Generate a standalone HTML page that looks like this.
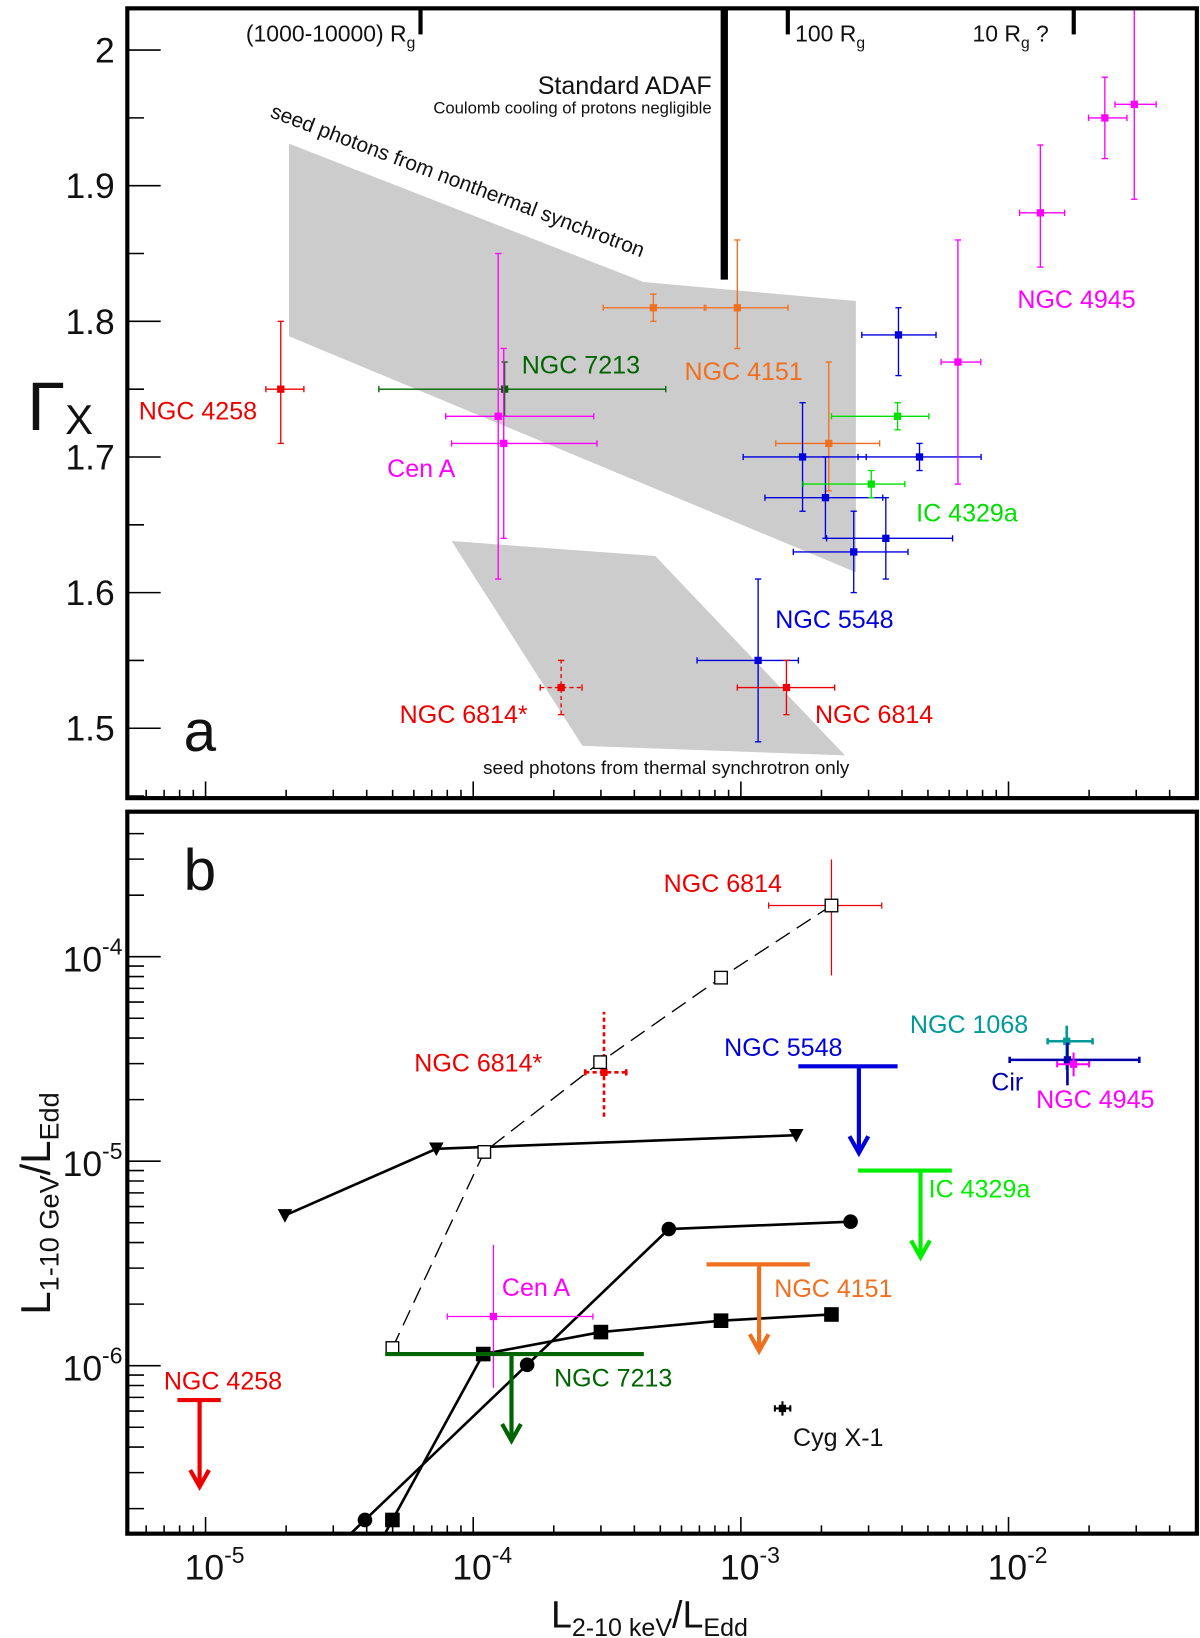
<!DOCTYPE html>
<html><head><meta charset="utf-8"><style>
html,body{margin:0;padding:0;background:#fff;}
svg{display:block;font-family:"Liberation Sans",Arial,sans-serif;}
</style></head><body>
<svg id="chart" xmlns="http://www.w3.org/2000/svg" width="1200" height="1638" viewBox="0 0 1150 1570" preserveAspectRatio="none">
<defs>
<clipPath id="clipA"><rect x="122" y="8" width="1025" height="757"/></clipPath>
<clipPath id="clipB"><rect x="122" y="778" width="1025" height="692"/></clipPath>
</defs>
<g id="panelA"></g>
<g id="panelB"></g>
</svg>
<script>
// ---------- Panel a data ----------
const aNames = ["NGC 4258","NGC 7213","Cen A","Cen A","NGC 4151","NGC 4151","NGC 4151","NGC 5548","NGC 5548","NGC 5548","NGC 5548","NGC 5548","NGC 5548","NGC 5548","IC 4329a","IC 4329a","NGC 4945","NGC 4945","NGC 4945","NGC 4945","NGC 6814","NGC 6814*"];
const aColors = ["#ee0000","#006400","#ff00ff","#ff00ff","#f07020","#f07020","#f07020","#0000dd","#0000dd","#0000dd","#0000dd","#0000dd","#0000dd","#0000dd","#00e000","#00e000","#ff00ff","#ff00ff","#ff00ff","#ff00ff","#ee0000","#ee0000"];
const aX   = [1.91e-5,1.31e-4,1.24e-4,1.30e-4,4.71e-4,9.7e-4,2.13e-3,3.88e-3,1.70e-3,4.65e-3,2.07e-3,3.48e-3,2.64e-3,1.16e-3,3.85e-3,3.07e-3,6.47e-3,1.315e-2,2.29e-2,2.95e-2,1.48e-3,2.13e-4];
const aXlo = [1.68e-5,4.44e-5,7.89e-5,8.3e-5,3.06e-4,7.4e-4,1.35e-3,2.83e-3,1.02e-3,2.74e-3,1.23e-3,2.09e-3,1.57e-3,6.86e-4,2.18e-3,1.71e-3,5.6e-3,1.10e-2,1.99e-2,2.5e-2,9.7e-4,1.78e-4];
const aXhi = [2.33e-5,5.24e-4,2.82e-4,2.9e-4,7.3e-4,1.5e-3,3.3e-3,5.36e-3,2.94e-3,7.9e-3,3.39e-3,6.18e-3,4.21e-3,1.64e-3,5.04e-3,4.1e-3,7.88e-3,1.62e-2,2.77e-2,3.56e-2,2.24e-3,2.55e-4];
const aG   = [1.75,1.75,1.73,1.71,1.81,1.81,1.71,1.79,1.70,1.70,1.67,1.64,1.63,1.55,1.73,1.68,1.77,1.88,1.95,1.96,1.53,1.53];
const aGlo = [1.71,1.73,1.61,1.64,1.80,1.78,1.675,1.76,1.66,1.69,1.64,1.61,1.60,1.49,1.72,1.67,1.68,1.84,1.92,1.89,1.51,1.51];
const aGhi = [1.80,1.77,1.85,1.78,1.82,1.86,1.77,1.81,1.74,1.71,1.70,1.67,1.66,1.61,1.74,1.69,1.86,1.93,1.98,2.03,1.55,1.55];
const aDashed = [0,0,0,0,0,0,0,0,0,0,0,0,0,0,0,0,0,0,0,0,0,1];
const regionUpperX = [2.05e-5,4.33e-4,2.69e-3,2.69e-3,2.05e-5];
const regionUpperG = [1.931,1.829,1.815,1.615,1.789];
const regionLowerX = [8.3e-5,4.79e-4,2.45e-3,2.56e-4];
const regionLowerG = [1.638,1.627,1.48,1.487];
const yTicksA = [1.5,1.6,1.7,1.8,1.9,2.0];
const yTickLabelsA = ["1.5","1.6","1.7","1.8","1.9","2"];
// ---------- Panel b data ----------
const bNames = ["NGC 6814","NGC 6814*","Cen A","NGC 1068","Cir","NGC 4945","Cyg X-1"];
const bColors = ["#ee0000","#ee0000","#ff00ff","#009999","#0000aa","#ff00ff","#000000"];
const bX   = [2.18e-3,3.08e-4,1.19e-4,1.65e-2,1.66e-2,1.75e-2,1.43e-3];
const bXlo = [1.27e-3,2.62e-4,8.0e-5,1.40e-2,1.01e-2,1.52e-2,1.34e-3];
const bXhi = [3.36e-3,3.73e-4,2.8e-4,2.06e-2,3.08e-2,2.0e-2,1.53e-3];
const bY   = [1.78e-4,2.72e-5,1.74e-6,3.86e-5,3.13e-5,2.98e-5,6.18e-7];
const bYlo = [8.1e-5,1.65e-5,7.8e-7,2.8e-5,2.35e-5,2.6e-5,5.7e-7];
const bYhi = [2.99e-4,5.37e-5,3.9e-6,4.6e-5,3.8e-5,3.4e-5,6.7e-7];
const bWidth = [1.2,2.5,1.2,2.5,2.5,2,2];
const bDashed = [0,1,0,0,0,0,0];
const ulNames = ["NGC 5548","IC 4329a","NGC 4151","NGC 7213","NGC 4258"];
const ulColors = ["#0000dd","#00ee00","#f07020","#006400","#ee0000"];
const ulXlo = [1.64e-3,2.74e-3,7.44e-4,4.69e-5,7.85e-6];
const ulXhi = [3.85e-3,6.14e-3,1.81e-3,4.34e-4,1.14e-5];
const ulX   = [2.76e-3,4.69e-3,1.17e-3,1.39e-4,9.5e-6];
const ulY   = [2.91e-5,9.0e-6,3.13e-6,1.14e-6,6.79e-7];
const triX = [1.98e-5,7.28e-5,1.61e-3];
const triY = [5.43e-6,1.15e-5,1.34e-5];
const osqX = [4.99e-5,1.10e-4,2.98e-4,8.43e-4,2.18e-3];
const osqY = [1.22e-6,1.11e-5,3.05e-5,7.9e-5,1.78e-4];
const circX = [3.94e-5,1.59e-4,5.38e-4,2.57e-3];
const circY = [1.76e-7,1.01e-6,4.66e-6,5.06e-6];
const fsqX = [4.99e-5,1.09e-4,3.0e-4,8.43e-4,2.18e-3];
const fsqY = [1.76e-7,1.14e-6,1.46e-6,1.66e-6,1.78e-6];
const xDecades = [-5,-4,-3,-2];
const xTickLabels = ["-5","-4","-3","-2"];
const yDecadesB = [-6,-5,-4];
const yTickLabelsB = ["-6","-5","-4"];

// ---------- axes ----------
const X0=122,X1=1147;
function xs(v){return 197+256.5*(Math.log10(v)+5);}
function ya(g){return 48+(2.0-g)*1300;}
function yb(v){return 917-196*(Math.log10(v)+4);}
const NS="http://www.w3.org/2000/svg";
function mk(tag,attrs,parent){const e=document.createElementNS(NS,tag);for(const k in attrs)e.setAttribute(k,attrs[k]);parent.appendChild(e);return e;}
const A=document.getElementById('panelA'),B=document.getElementById('panelB');

// ===== Panel A =====
const regA=mk('g',{'clip-path':'url(#clipA)'},A);
let p1=mk('polygon',{points:regionUpperX.map((x,i)=>xs(x)+','+ya(regionUpperG[i])).join(' '),fill:'#cccccc'},regA);


let p2=mk('polygon',{points:regionLowerX.map((x,i)=>xs(x)+','+ya(regionLowerG[i])).join(' '),fill:'#cccccc'},regA);


mk('line',{x1:xs(8.67e-4),y1:8,x2:xs(8.67e-4),y2:268,stroke:'#000','stroke-width':7},A);
mk('line',{x1:403,y1:8,x2:403,y2:33,stroke:'#000','stroke-width':4},A);
mk('line',{x1:755,y1:8,x2:755,y2:33,stroke:'#000','stroke-width':4},A);
mk('line',{x1:1029,y1:8,x2:1029,y2:33,stroke:'#000','stroke-width':4},A);
aX.forEach((x,i)=>{
  const g=mk('g',{stroke:aColors[i],'stroke-width':1.3,fill:aColors[i]},regA);
  
  
  const da=aDashed[i]?'4,3':'none';
  const cx=xs(x),cy=ya(aG[i]);
  mk('line',{x1:xs(aXlo[i]),y1:cy,x2:xs(aXhi[i]),y2:cy,'stroke-dasharray':da},g);
  mk('line',{x1:cx,y1:ya(aGlo[i]),x2:cx,y2:ya(aGhi[i]),'stroke-dasharray':da},g);
  [[xs(aXlo[i]),cy,0],[xs(aXhi[i]),cy,0],[cx,ya(aGlo[i]),1],[cx,ya(aGhi[i]),1]].forEach(c=>{
    if(c[2]) mk('line',{x1:c[0]-3,y1:c[1],x2:c[0]+3,y2:c[1]},g); else mk('line',{x1:c[0],y1:c[1]-3,x2:c[0],y2:c[1]+3},g);
  });
  mk('rect',{x:cx-3.5,y:cy-3.5,width:7,height:7,stroke:'none'},g);
});
mk('rect',{x:122,y:8,width:1025,height:757,fill:'none',stroke:'#000','stroke-width':4},A);
for(let d=-6;d<=-1;d++){for(let m=1;m<=9;m++){const v=m*Math.pow(10,d);const x=xs(v);if(x<X0+2||x>X1-2)continue;mk('line',{x1:x,y1:765,x2:x,y2:765-(m==1?16:8),stroke:'#000','stroke-width':1.5},A);}}
for(let g=1.45;g<=2.03;g+=0.05){const y=ya(g);if(y<10)continue;const maj=Math.abs(g*10-Math.round(g*10))<0.01;mk('line',{x1:122,y1:y,x2:122+(maj?32:16),y2:y,stroke:'#000','stroke-width':1.5},A);}
yTicksA.forEach((g,i)=>{let t=mk('text',{x:110,y:ya(g)+12,'font-size':34,'text-anchor':'end',fill:'#111'},A);t.textContent=yTickLabelsA[i];

});
function label(parent,x,y,txt,col,size,name,extra){const t=mk('text',Object.assign({x:x,y:y,'font-size':size,fill:col},extra||{}),parent);t.textContent=txt;

return t;}
let t1=label(A,398,40,'(1000-10000) R','#111',22,'rg-label-1000',{'text-anchor':'end'});
let s=mk('tspan',{'font-size':15,dy:6},t1);s.textContent='g';
let t2=label(A,762,40,'100 R','#111',22,'rg-label-100');s=mk('tspan',{'font-size':15,dy:6},t2);s.textContent='g';
let t3=label(A,932,40,'10 R','#111',22,'rg-label-10');s=mk('tspan',{'font-size':15,dy:6},t3);s.textContent='g';s=mk('tspan',{dy:-6},t3);s.textContent=' ?';
label(A,682,90,'Standard ADAF','#111',24,'standard-adaf-label',{'text-anchor':'end'});
label(A,682,109,'Coulomb cooling of protons negligible','#111',16,'coulomb-label',{'text-anchor':'end'});
label(A,0,0,'seed photons from nonthermal synchrotron','#111',20,'nonthermal-label',{transform:'translate(258,112) rotate(20.7)'});
label(A,463,742,'seed photons from thermal synchrotron only','#111',18,'thermal-label');
label(A,133,402,'NGC 4258','#ee0000',24,'label-ngc4258-a');
label(A,500,358,'NGC 7213','#006400',24,'label-ngc7213-a');
label(A,656,364,'NGC 4151','#f07020',24,'label-ngc4151-a');
label(A,371,457,'Cen A','#ff00ff',24,'label-cena-a');
label(A,878,500,'IC 4329a','#00dd00',24,'label-ic4329a-a');
label(A,975,295,'NGC 4945','#ff00ff',24,'label-ngc4945-a');
label(A,743,602,'NGC 5548','#0000dd',24,'label-ngc5548-a');
label(A,383,693,'NGC 6814*','#ee0000',24,'label-ngc6814star-a');
label(A,781,693,'NGC 6814','#ee0000',24,'label-ngc6814-a');
label(A,176,720,'a','#111',56,'panel-a-letter');
let gt=label(A,26,412,'Γ','#111',66,'y-axis-title-a');s=mk('tspan',{'font-size':40,dy:4},gt);s.textContent='X';

// ===== Panel B =====
const regB=mk('g',{'clip-path':'url(#clipB)'},B);
function series(xa,ya2,dash,name){const pl=mk('polyline',{points:xa.map((x,i)=>xs(x)+','+yb(ya2[i])).join(' '),fill:'none',stroke:'#000','stroke-width':dash?1.3:2.5,'stroke-dasharray':dash?'16,8':'none'},regB);

}
series(triX,triY,false,'model-line-triangles');
series(osqX,osqY,true,'model-line-open-squares');
series(circX,circY,false,'model-line-circles');
series(fsqX,fsqY,false,'model-line-filled-squares');
{const x1=xs(circX[0]),y1=yb(circY[0]),x2=xs(circX[1]),y2=yb(circY[1]);mk('line',{x1:x1,y1:y1,x2:x1-(x2-x1)*0.2,y2:y1-(y2-y1)*0.2,stroke:'#000','stroke-width':2.5},regB);}
{const x1=xs(fsqX[0]),y1=yb(fsqY[0]),x2=xs(fsqX[1]),y2=yb(fsqY[1]);mk('line',{x1:x1,y1:y1,x2:x1-(x2-x1)*0.2,y2:y1-(y2-y1)*0.2,stroke:'#000','stroke-width':2.5},regB);}
triX.forEach((x,i)=>{const cx=xs(x),cy=yb(triY[i]);let m=mk('polygon',{points:`${cx-7},${cy-6} ${cx+7},${cy-6} ${cx},${cy+7}`,fill:'#000'},regB);

});
circX.forEach((x,i)=>{let m=mk('circle',{cx:xs(x),cy:yb(circY[i]),r:7,fill:'#000'},regB);

});
fsqX.forEach((x,i)=>{let m=mk('rect',{x:xs(x)-7,y:yb(fsqY[i])-7,width:14,height:14,fill:'#000'},regB);

});
bX.forEach((x,i)=>{
  const g=mk('g',{stroke:bColors[i],'stroke-width':bWidth[i],fill:bColors[i]},regB);
  
  
  const da=bDashed[i]?'4,3':'none';const cx=xs(x),cy=yb(bY[i]);
  mk('line',{x1:xs(bXlo[i]),y1:cy,x2:xs(bXhi[i]),y2:cy,'stroke-dasharray':da},g);
  mk('line',{x1:cx,y1:yb(bYlo[i]),x2:cx,y2:yb(bYhi[i]),'stroke-dasharray':da},g);
  mk('line',{x1:xs(bXlo[i]),y1:cy-3,x2:xs(bXlo[i]),y2:cy+3},g);
  mk('line',{x1:xs(bXhi[i]),y1:cy-3,x2:xs(bXhi[i]),y2:cy+3},g);
  mk('rect',{x:cx-3.5,y:cy-3.5,width:7,height:7,stroke:'none'},g);
});
osqX.forEach((x,i)=>{let m=mk('rect',{x:xs(x)-6,y:yb(osqY[i])-6,width:12,height:12,fill:'#fff',stroke:'#000','stroke-width':1.3},regB);

});
ulX.forEach((x,i)=>{
  const g=mk('g',{stroke:ulColors[i],'stroke-width':4,fill:'none'},regB);
  
  
  const y=yb(ulY[i]),cx=xs(x),y2=y+83;
  mk('line',{x1:xs(ulXlo[i]),y1:y,x2:xs(ulXhi[i]),y2:y},g);
  mk('line',{x1:cx,y1:y,x2:cx,y2:y2},g);
  mk('polyline',{points:`${cx-9},${y2-16} ${cx},${y2} ${cx+9},${y2-16}`},g);
});
mk('rect',{x:122,y:778,width:1025,height:692,fill:'none',stroke:'#000','stroke-width':4},B);
for(let d=-6;d<=-1;d++){for(let m=1;m<=9;m++){const v=m*Math.pow(10,d);const x=xs(v);if(x<X0+2||x>X1-2)continue;mk('line',{x1:x,y1:1470,x2:x,y2:1470-(m==1?16:8),stroke:'#000','stroke-width':1.5},B);}}
for(let d=-7;d<=-3;d++){for(let m=1;m<=9;m++){const v=m*Math.pow(10,d);const y=yb(v);if(y<781||y>1467)continue;mk('line',{x1:122,y1:y,x2:122+(m==1?32:16),y2:y,stroke:'#000','stroke-width':1.5},B);}}
yDecadesB.forEach((d,i)=>{const y=yb(Math.pow(10,d));let t=mk('text',{x:60,y:y+14,'font-size':34,fill:'#111'},B);t.textContent='10';


let sp=mk('tspan',{'font-size':22,dy:-16},t);sp.textContent=yTickLabelsB[i];});
xDecades.forEach((d,i)=>{const x=xs(Math.pow(10,d));let t=mk('text',{x:x-20,y:1514,'font-size':34,fill:'#111'},B);t.textContent='10';


let sp=mk('tspan',{'font-size':22,dy:-16},t);sp.textContent=xTickLabels[i];});
label(B,176,853,'b','#111',56,'panel-b-letter');
label(B,636,855,'NGC 6814','#ee0000',24,'label-ngc6814-b');
label(B,397,1027,'NGC 6814*','#ee0000',24,'label-ngc6814star-b');
label(B,694,1012,'NGC 5548','#0000dd',24,'label-ngc5548-b');
label(B,872,990,'NGC 1068','#009999',24,'label-ngc1068-b');
label(B,950,1045,'Cir','#0000aa',24,'label-cir-b');
label(B,993,1062,'NGC 4945','#ff00ff',24,'label-ngc4945-b');
label(B,890,1148,'IC 4329a','#00ee00',24,'label-ic4329a-b');
label(B,481,1242,'Cen A','#ff00ff',24,'label-cena-b');
label(B,742,1243,'NGC 4151','#f07020',24,'label-ngc4151-b');
label(B,531,1329,'NGC 7213','#006400',24,'label-ngc7213-b');
label(B,157,1332,'NGC 4258','#ee0000',24,'label-ngc4258-b');
label(B,760,1386,'Cyg X-1','#111',24,'label-cygx1-b');
let yt=label(B,0,0,'L','#111',40,'y-axis-title-b',{transform:'translate(48,1260) rotate(-90)'});
s=mk('tspan',{'font-size':26,dy:8},yt);s.textContent='1-10 GeV';s=mk('tspan',{dy:-8},yt);s.textContent='/L';s=mk('tspan',{'font-size':26,dy:8},yt);s.textContent='Edd';
let xt=label(B,528,1560,'L','#111',36,'x-axis-title');
s=mk('tspan',{'font-size':24,dy:8},xt);s.textContent='2-10 keV';s=mk('tspan',{dy:-8},xt);s.textContent='/L';s=mk('tspan',{'font-size':24,dy:8},xt);s.textContent='Edd';
</script>
</body></html>
